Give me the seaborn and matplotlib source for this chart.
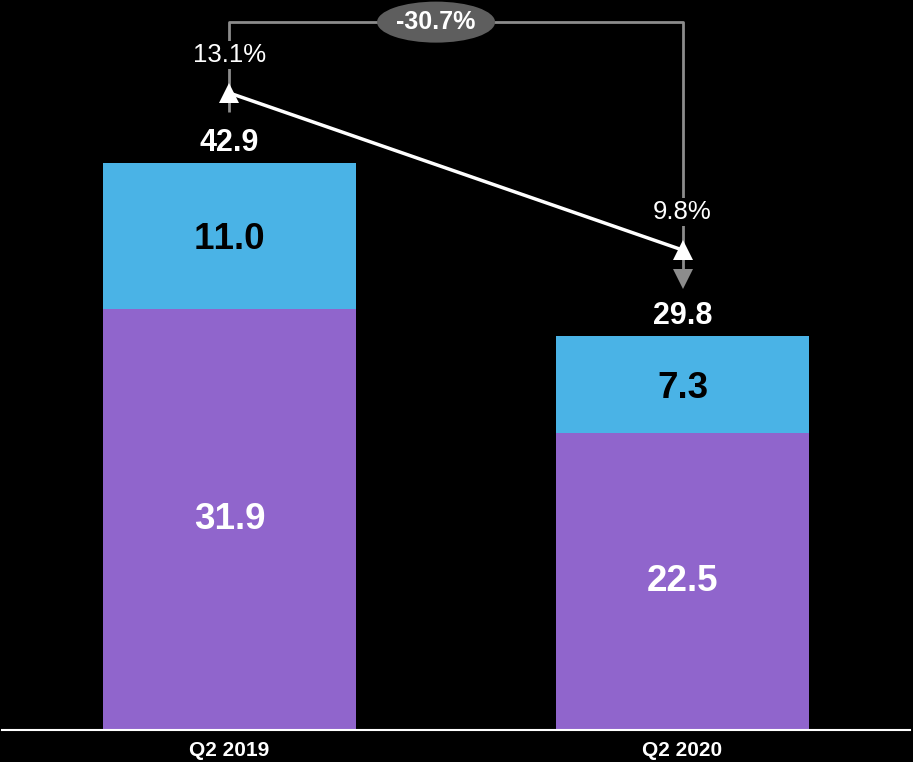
import matplotlib
matplotlib.use("Agg")
import matplotlib.pyplot as plt
from matplotlib.patches import Ellipse
import seaborn as sns
import pandas as pd

# Data
quarters = ["Q2 2019", "Q2 2020"]
base_values = [31.9, 22.5]        # purple segment
top_values = [11.0, 7.3]          # blue segment
totals = [42.9, 29.8]
margins = [13.1, 9.8]             # margin in %
margin_labels = ["13.1%", "9.8%"]
change_label = "-30.7%"

BLUE = "#4AB3E6"
PURPLE = "#9065CC"
GREY = "#8C8C8C"
DARK_GREY = "#5E5E5E"

sns.set_theme(style="white")
plt.rcParams["font.family"] = ["Liberation Sans", "DejaVu Sans"]
# keep digits evenly spaced (no tight "11" pairs)
plt.rcParams["text.kerning_factor"] = 6

df = pd.DataFrame({"quarter": quarters, "base": base_values, "top": top_values,
                   "total": totals, "margin": margins})

fig = plt.figure(figsize=(9.13, 7.62), dpi=100, facecolor="black")
ax = fig.add_axes([2 / 913, 32 / 762, 908 / 913, 730 / 762])
ax.set_facecolor("black")

bar_w = 0.5585
sns.barplot(data=df, x="quarter", y="total", color=BLUE, width=bar_w,
            saturation=1, ax=ax, linewidth=0)
sns.barplot(data=df, x="quarter", y="base", color=PURPLE, width=bar_w,
            saturation=1, ax=ax, linewidth=0)

ax.set_xlim(-0.502, 1.502)
ax.set_ylim(0, 55.26)
for s in ["top", "right", "left"]:
    ax.spines[s].set_visible(False)
ax.spines["bottom"].set_color("white")
ax.spines["bottom"].set_linewidth(1.5)
ax.set_yticks([])
ax.set_xlabel("")
ax.set_ylabel("")
ax.tick_params(axis="x", length=0, pad=8, labelcolor="white", labelsize=15)
for lab in ax.get_xticklabels():
    lab.set_fontweight("bold")

# Segment and total labels
for i in range(len(quarters)):
    b, t, tot = base_values[i], top_values[i], totals[i]
    ax.text(i, b / 2, f"{b:.1f}", ha="center", va="center", color="white",
            fontsize=26.5, fontweight="bold")
    ax.text(i, b + t / 2, f"{t:.1f}", ha="center", va="center_baseline",
            color="black", fontsize=26.5, fontweight="bold")
    ax.annotate(f"{tot:.1f}", (i, tot), xytext=(0, 14.5), textcoords="offset points",
                ha="center", va="center", color="white", fontsize=22,
                fontweight="bold")

# Margin line on a secondary scale
ax2 = ax.twinx()
ax2.set_ylim(-0.288, 15.055)
ax2.axis("off")

bracket_y = 14.59
# grey bracket connecting the two margins
ax2.plot([0, 0, 1, 1], [margins[0] - 0.4, bracket_y, bracket_y, margins[1] - 0.5],
         color=GREY, lw=2, solid_capstyle="butt", zorder=2)
ax2.plot([1], [margins[1] - 0.6], marker="v", color=GREY, markersize=15,
         markeredgewidth=0, zorder=2)

sns.lineplot(x=[0, 1], y=margins, ax=ax2, color="white", lw=2.5, zorder=4)
ax2.plot([0, 1], margins, linestyle="none", marker="^", color="white",
         markersize=15, markeredgewidth=0, zorder=5)

for i, lab in enumerate(margin_labels):
    ax2.text(i, margins[i] + 0.8, lab, ha="center", va="center", color="white",
             fontsize=18.5, zorder=6,
             bbox=dict(facecolor="black", edgecolor="none", pad=1.5))

ax2.add_patch(Ellipse((0.456, bracket_y), 0.2605, 0.862, facecolor=DARK_GREY,
                      edgecolor="none", zorder=6))
ax2.text(0.456, bracket_y, change_label, ha="center", va="center", color="white",
         fontsize=18, fontweight="bold", zorder=7)

fig.savefig("out.png", dpi=100, facecolor="black")
